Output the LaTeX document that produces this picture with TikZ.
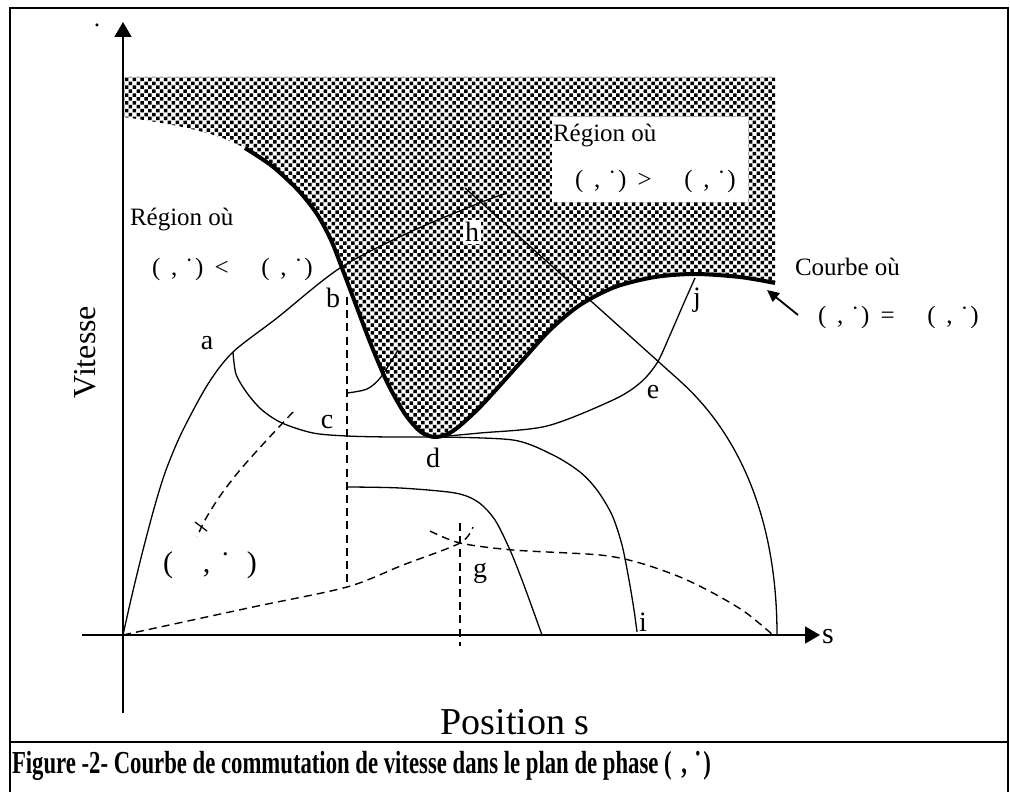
\documentclass[tikz,border=0pt]{standalone}
\usepackage{fontspec}
\setmainfont{Liberation Serif}
\usepackage{tikz}
\usetikzlibrary{positioning,arrows.meta,patterns}

\pgfdeclarepatternformonly{stipple}{\pgfqpoint{-1pt}{-1pt}}{\pgfqpoint{5pt}{5pt}}{\pgfqpoint{3.9pt}{3.9pt}}{%
  \pgfpathrectangle{\pgfqpoint{0pt}{0pt}}{\pgfqpoint{1.75pt}{1.75pt}}%
  \pgfpathrectangle{\pgfqpoint{1.95pt}{1.95pt}}{\pgfqpoint{1.75pt}{1.75pt}}%
  \pgfusepath{fill}}

\newcommand{\pairsd}{(\hspace{0.43em},\hspace{0.31em}˙\hspace{0.07em})}

\begin{document}
\begin{tikzpicture}[x=0.5pt,y=-0.5pt,
    every node/.style={inner sep=0pt,outer sep=0pt},
    lbl/.style={font=\fontsize{14}{16}\selectfont},
    reg/.style={font=\fontsize{12.5}{15}\selectfont},
    crv/.style={line width=0.65pt},
    dsh/.style={line width=0.7pt,dash pattern=on 4pt off 2.6pt},
    axe/.style={line width=0.8pt,-{Triangle[length=7.5pt,width=8.5pt]}}]
    \useasboundingbox (0,0) rectangle (1010,791);

    \draw[line width=1.2pt] (10,800) -- (10,8) -- (1008,8) -- (1008,800);
    \draw[line width=1.2pt] (10,742) -- (1008,742);

    \fill[pattern=stipple] (123,117) -- plot[smooth] coordinates {(123,117) (150,121) (187,128) (220,137) (245,148)}
        -- plot[smooth] coordinates {(245,148) (272,166) (298,190) (317,214) (331,240) (342,268) (356,305) (370,342) (387,382) (405,414) (421,432) (436,437) (453,431) (480,407) (520,363) (550,330) (580,305) (615,287) (655,277) (695,274) (740,277) (775,283)}
        -- (775,77) -- (123,77) -- cycle;

    \draw[axe] (123,713) -- (123,22);
    \draw[axe] (82,635) -- (820,635);

    \draw[crv] plot[smooth] coordinates {(123,635) (132,595) (143,550) (155,505) (166,470) (182,432) (208,384) (233,352) (277,318) (340,268) (410,232) (482,202) (507,193)};
    \draw[crv] plot[smooth] coordinates {(233,352) (236,374) (247,393) (262,410) (282,423) (313,433) (347,436) (390,437) (436,437)};
    \draw[crv] plot[smooth] coordinates {(436,437) (513,440) (553,455) (580,472) (597,490) (612,515) (622,545) (629,580) (634,610) (637,632)};
    \draw[crv] plot[smooth] coordinates {(436,437) (480,433) (547,426) (613,400) (640,383) (657,363) (670,335) (683,305) (695,278)};
    \draw[crv] plot[smooth] coordinates {(347,393) (367,389) (381,377) (398,350)};
    \draw[crv] plot[smooth] coordinates {(347,487) (400,488) (455,493) (478,502) (495,520) (510,550) (522,580) (533,610) (542,635)};
    \draw[crv] (465,188) -- (680,381) .. controls (740,435) and (777,520) .. (777,635);

    \draw[dsh] (347,297) -- (347,587);
    \draw[dsh] (460,523) -- (460,646);
    \draw[dsh] plot[smooth] coordinates {(123,635) (253,607) (347,587) (403,565) (460,543) (473,527)};
    \draw[dsh] plot[smooth] coordinates {(430,531) (460,543) (513,550) (600,555) (640,563) (680,577) (713,593) (745,612) (773,635)};
    \draw[dsh] plot[smooth] coordinates {(293,412) (265,442) (240,470) (220,496) (205,520) (197,537)};
    \draw[crv] (195,522) -- (207,531);

    \draw[line width=2pt] plot[smooth] coordinates {(245,148) (272,166) (298,190) (317,214) (331,240) (342,268) (356,305) (370,342) (387,382) (405,414) (421,432) (436,437) (453,431) (480,407) (520,363) (550,330) (580,305) (615,287) (655,277) (695,274) (740,277) (775,283)};

    \fill[white] (552,117) rectangle (748,202);
    \node[reg,anchor=base west] (regB1) at (553,142) {Région où};
    \node[reg,anchor=base west] (regB2) at (575,188) {\pairsd\hspace{0.45em}>\hspace{1.3em}\pairsd};
    \node[reg,anchor=base west] (regA1) at (130,225) {Région où};
    \node[reg,anchor=base west] (regA2) at (152,275) {\pairsd\hspace{0.45em}<\hspace{1.3em}\pairsd};
    \node[reg,anchor=base west] (crbA) at (795,275) {Courbe où};
    \node[reg,anchor=base west] (crbB) at (818,323) {\pairsd\hspace{0.45em}=\hspace{1.3em}\pairsd};
    \coordinate (crbTip) at (767,290);
    \draw[line width=0.9pt,-{Triangle[length=6pt,width=5.5pt]}] ([xshift=-10pt,yshift=4pt]crbB.base west) -- (crbTip);

    \node[lbl] (lblA) at (207,343) {a};
    \node[lbl] (lblB) at (333,298) {b};
    \node[lbl] (lblC) at (327,422) {c};
    \node[lbl] (lblD) at (433,458) {d};
    \node[lbl] (lblE) at (653,392) {e};
    \node[lbl] (lblG) at (480,573) {g};
    \node[lbl,fill=white,inner sep=1pt] (lblH) at (472,232) {h};
    \node[lbl] (lblI) at (643,622) {i};
    \node[lbl] (lblJ) at (697,300) {j};
    \node[font=\fontsize{15}{18}\selectfont] (lblS) at (828,637) {s};

    \node[font=\fontsize{15}{18}\selectfont,anchor=base west] (initPt) at (163,572) {(\hspace{1em},\hspace{0.33em}˙\hspace{0.55em})};
    \node[font=\fontsize{14}{16}\selectfont,anchor=north] (yDot) at (97,24) {˙};
    \node[font=\fontsize{16}{19}\selectfont,rotate=90] (yLab) at (85,352) {Vitesse};
    \node[font=\fontsize{19}{22}\selectfont] (xLab) at (515,722) {Position s};
    \node[font=\bfseries\fontsize{16}{18}\selectfont,anchor=base west] (capt) at (12,773) {\scalebox{0.71}[1]{Figure -2- Courbe de commutation de vitesse dans le plan de phase \pairsd}};
\end{tikzpicture}
\end{document}
